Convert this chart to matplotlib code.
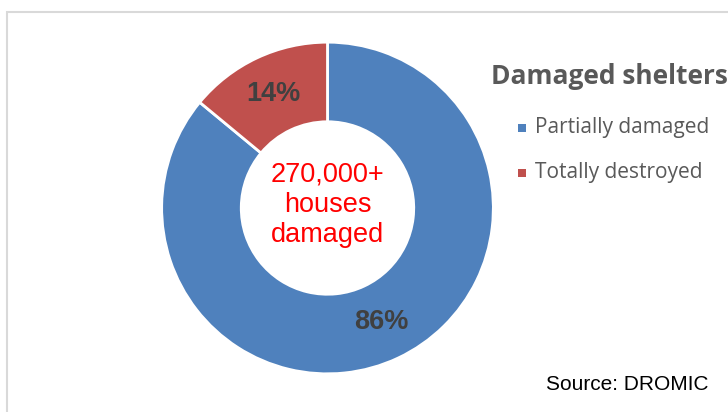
import matplotlib.pyplot as plt
from matplotlib.patches import Rectangle

# data
labels = ['Partially damaged', 'Totally destroyed']
shares = [86, 14]
colors = ['#4F81BD', '#C0504D']
center_text = '270,000+\nhouses\ndamaged'
title = 'Damaged shelters'
source = 'Source: DROMIC'

W, H = 728, 412
fig = plt.figure(figsize=(W / 100, H / 100), dpi=100)

# light grey frame (runs off right and bottom edges)
fig.patches.append(Rectangle((7 / W, -0.1), 1.2, (H - 12) / H + 0.1, transform=fig.transFigure,
                             fill=False, edgecolor='#D9D9D9', lw=1.5))

# donut: centre (327.5, 208) px, radius 167.5 px
ax = fig.add_axes([160 / W, 36.5 / H, 335 / W, 335 / H])
wedges, texts, autotexts = ax.pie(shares, colors=colors, startangle=90, counterclock=False,
                                  radius=1, autopct='%d%%', pctdistance=0.76,
                                  wedgeprops=dict(width=0.48, edgecolor='white', linewidth=2),
                                  textprops=dict(fontsize=19.5, fontweight='bold', color='#404040',
                                                 family='Liberation Sans'))
ax.set_xlim(-1.01, 1.01)
ax.set_ylim(-1.01, 1.01)
ax.set_aspect('equal')
ax.axis('off')

ax.text(0, 0.02, center_text, ha='center', va='center', color='#FF0000', fontsize=19.5,
        family='Liberation Sans', linespacing=1.2)

# title and legend
fig.text(491 / W, 1 - 77 / H, title, ha='left', va='center', fontsize=19, fontweight='bold',
         color='#595959', family='Open Sans')
for i, lab in enumerate(labels):
    y = 1 - (128 + 45 * i) / H
    fig.patches.append(Rectangle((518 / W, y - 4 / H), 8 / W, 8 / H, transform=fig.transFigure,
                                 facecolor=colors[i], edgecolor='none'))
    fig.text(535 / W, y, lab, ha='left', va='center', fontsize=15, color='#595959',
             family='Open Sans')

fig.text(708 / W, 1 - 385 / H, source, ha='right', va='center', fontsize=15,
         color='black', family='Liberation Sans')

fig.savefig('out.png', dpi=100)
